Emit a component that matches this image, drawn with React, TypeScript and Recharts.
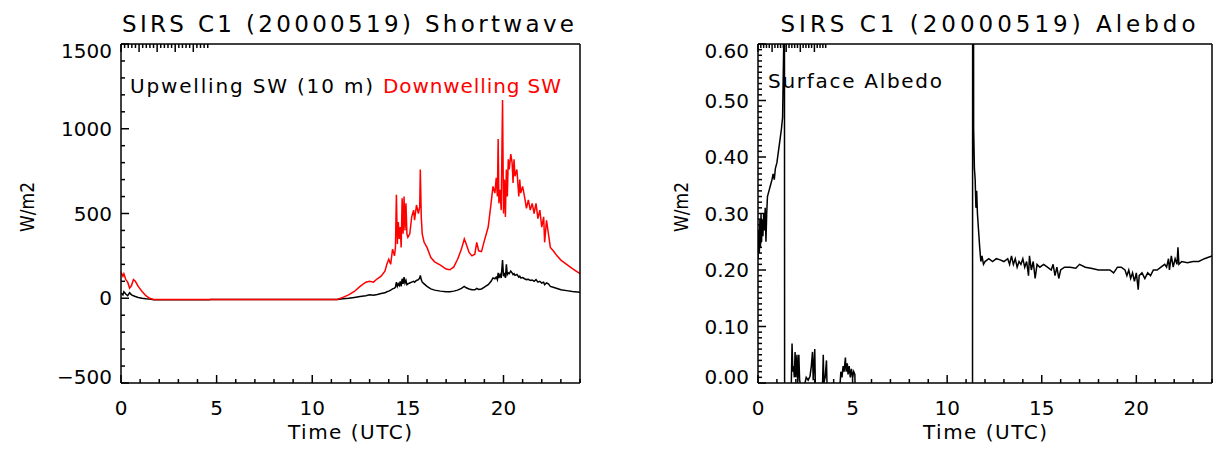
import { LineChart, Line, XAxis, YAxis } from 'recharts';

// Shortwave panel: time (UTC hours), downwelling and upwelling SW (W/m2)
const swTime = [
  0, 0.1, 0.15, 0.25, 0.35, 0.45, 0.55, 0.65, 0.75, 0.9,
  1.1, 1.3, 1.5, 1.7, 3, 4.6, 4.7, 6, 8, 10,
  11.3, 11.6, 11.9, 12.2, 12.5, 12.8, 13, 13.2, 13.4, 13.6,
  13.8, 13.9, 14, 14.1, 14.2, 14.3, 14.35, 14.4, 14.45, 14.5,
  14.55, 14.6, 14.65, 14.7, 14.75, 14.8, 14.85, 14.9, 14.95, 15,
  15.1, 15.2, 15.3, 15.35, 15.45, 15.55, 15.62, 15.65, 15.7, 15.75,
  15.85, 16, 16.2, 16.4, 16.7, 17, 17.2, 17.4, 17.6, 17.8,
  17.95, 18.05, 18.2, 18.35, 18.5, 18.6, 18.7, 18.85, 19, 19.2,
  19.35, 19.45, 19.55, 19.62, 19.68, 19.72, 19.76, 19.82, 19.88, 19.95,
  20, 20.05, 20.1, 20.15, 20.2, 20.25, 20.3, 20.38, 20.45, 20.5,
  20.55, 20.6, 20.7, 20.8, 20.85, 20.9, 21, 21.1, 21.2, 21.3,
  21.4, 21.5, 21.6, 21.7, 21.8, 21.9, 22, 22.1, 22.15, 22.25,
  22.35, 22.45, 22.6, 22.8, 23, 23.3, 23.6, 24,
];
const swDown = [
  155, 130, 145, 110, 95, 60, 75, 110, 100, 70,
  40, 15, 0, -7, -7, -7, -7, -7, -7, -7,
  -7, 5, 20, 40, 70, 95, 100, 95, 115, 130,
  160, 200, 230, 200, 290, 250, 300, 610, 320, 450,
  350, 420, 300, 590, 380, 600, 400, 560, 380, 360,
  380, 480, 520, 460, 550, 500, 540, 760, 480, 380,
  330, 300, 240, 215, 195, 172, 168, 185, 230, 290,
  350, 320, 270, 250, 260, 330, 280, 275, 340, 420,
  560, 660, 620, 710, 600, 940, 560, 640, 520, 1170,
  500, 700, 480, 760, 600, 820, 760, 850, 800, 680,
  820, 720, 760, 600, 700, 620, 660, 600, 530, 580,
  520, 560, 500, 560, 470, 520, 420, 480, 330, 460,
  380, 300, 280, 250, 225, 200, 175, 145,
];
const swUp = [
  30, 20, 38, 25, 15, 32, 20, 15, 10, 5,
  0, -3, -5, -9, -9, -9, -7, -7, -7, -7,
  -7, -3, 0, 5, 10, 15, 20, 18, 22, 28,
  32, 38, 42, 48, 55, 60, 65, 95, 70, 85,
  75, 100, 70, 115, 85, 125, 90, 105, 80, 85,
  90, 95, 100, 95, 105, 110, 120, 135, 110, 95,
  85, 70, 55, 48, 42, 38, 38, 42, 48, 58,
  70, 62, 55, 50, 50, 58, 52, 55, 65, 80,
  100, 120, 115, 125, 110, 150, 120, 140, 120, 225,
  130, 150, 120, 200, 140, 150, 145, 160, 150, 140,
  145, 135, 140, 125, 130, 120, 122, 115, 110, 112,
  105, 108, 100, 110, 95, 100, 90, 95, 80, 90,
  85, 70, 65, 58, 50, 45, 40, 35,
];

// Albedo panel: time (UTC hours) and surface albedo
const albTime = [
  0, 0.04, 0.07, 0.1, 0.13, 0.16, 0.19, 0.22, 0.26, 0.3,
  0.34, 0.38, 0.42, 0.46, 0.5, 0.58, 0.66, 0.74, 0.8, 0.86,
  0.92, 1, 1.08, 1.16, 1.24, 1.3, 1.36, 1.38, 1.42, 1.46,
  1.75, 1.8, 1.84, 1.88, 1.92, 1.96, 2, 2.06, 2.1, 2.16,
  2.2, 2.35, 2.55, 2.65, 2.75, 2.82, 2.88, 2.92, 3, 3.03,
  3.06, 3.4, 3.45, 3.48, 3.55, 3.62, 3.66, 4.3, 4.38, 4.44,
  4.5, 4.55, 4.62, 4.66, 4.72, 4.76, 4.82, 4.88, 4.94, 5,
  5.06, 5.12, 5.16, 11.34, 11.36, 11.4, 11.44, 11.48, 11.52, 11.56,
  11.6, 11.66, 11.72, 11.78, 11.84, 11.92, 12, 12.2, 12.4, 12.6,
  12.8, 13, 13.2, 13.3, 13.4, 13.5, 13.6, 13.7, 13.8, 13.9,
  14, 14.1, 14.2, 14.3, 14.35, 14.45, 14.55, 14.65, 14.75, 14.9,
  15.1, 15.3, 15.5, 15.6, 15.7, 15.8, 15.9, 16, 16.2, 16.5,
  16.8, 17, 17.3, 17.6, 18, 18.3, 18.6, 18.8, 19, 19.2,
  19.4, 19.5, 19.6, 19.7, 19.8, 19.9, 20, 20.1, 20.15, 20.3,
  20.45, 20.6, 20.75, 20.9, 21.1, 21.3, 21.5, 21.6, 21.7, 21.75,
  21.85, 21.95, 22.05, 22.15, 22.2, 22.25, 22.4, 22.7, 23, 23.3,
  23.6, 24,
];
const albValue = [
  0.22, 0.27, 0.23, 0.29, 0.24, 0.3, 0.25, 0.29, 0.26, 0.3,
  0.27, 0.31, 0.25, 0.3, 0.33, 0.34, 0.35, 0.36, 0.37, 0.36,
  0.38, 0.39, 0.41, 0.43, 0.45, 0.47, 0.6, 2, -1, -0.05,
  -0.02, 0.07, 0.02, 0.03, 0.01, 0.055, 0.01, 0.05, 0, 0.05,
  0.005, -0.02, 0.01, 0.005, 0.012, 0.03, 0.055, 0.005, 0.06, 0,
  -0.03, -0.02, 0.05, 0, 0.01, 0.04, -0.02, -0.02, 0.02, 0.01,
  0.03, 0.02, 0.045, 0.02, 0.035, 0.015, 0.03, 0.01, 0.025, 0.01,
  0.02, 0.015, -0.05, -0.05, 2, 0.45, 0.38, 0.36, 0.31, 0.34,
  0.3, 0.27, 0.24, 0.215, 0.225, 0.21, 0.215, 0.22, 0.215, 0.22,
  0.218, 0.215, 0.22, 0.21, 0.225, 0.21, 0.22, 0.205, 0.215, 0.21,
  0.22, 0.205, 0.215, 0.19, 0.225, 0.2, 0.215, 0.185, 0.21, 0.205,
  0.21, 0.205, 0.2, 0.21, 0.19, 0.205, 0.185, 0.2, 0.205, 0.205,
  0.203, 0.21, 0.205, 0.203, 0.2, 0.2, 0.2, 0.195, 0.205, 0.205,
  0.2, 0.19, 0.2, 0.185, 0.195, 0.18, 0.195, 0.165, 0.19, 0.195,
  0.185, 0.195, 0.19, 0.2, 0.2, 0.205, 0.21, 0.205, 0.22, 0.2,
  0.225, 0.205, 0.22, 0.21, 0.24, 0.21, 0.215, 0.213, 0.215, 0.215,
  0.22, 0.225,
];

// labelled (major) ticks
const xLabels = [0, 5, 10, 15, 20];
const swYLabels = [-500, 0, 500, 1000, 1500];
const albYLabels = [0, 0.1, 0.2, 0.3, 0.4, 0.5, 0.6];

// minor tick positions
const hourTicks = Array.from({ length: 25 }, (_, i) => i);
const swYTicks = Array.from({ length: 21 }, (_, i) => -500 + i * 100);
const albYTicks = Array.from({ length: 61 }, (_, i) => i / 100);

const swData = swTime.map((t, i) => ({ t, down: swDown[i], up: swUp[i] }));
const albData = albTime.map((t, i) => ({ t, albedo: albValue[i] }));

const FONT = "'DejaVu Sans', sans-serif";
const AXIS = { stroke: '#000', strokeWidth: 1.5 };

const makeXTick = (side: 'top' | 'bottom') => (props: any) => {
  const { x, y, payload } = props;
  const v = payload.value;
  const major = xLabels.includes(v);
  const len = major ? 8 : 4;
  const dir = side === 'bottom' ? -1 : 1;
  return (
    <g>
      <line x1={x} x2={x} y1={y} y2={y + dir * len} stroke="#000" strokeWidth={1.5} />
      {side === 'bottom' && major && (
        <text x={x} y={y + 32} textAnchor="middle" fontFamily={FONT} fontSize={20} fill="#000">
          {v}
        </text>
      )}
    </g>
  );
};

const makeYTick =
  (side: 'left' | 'right', labels: number[], fmt: (v: number) => string) => (props: any) => {
    const { x, y, payload } = props;
    const v = payload.value;
    const major = labels.includes(v);
    const len = major ? 8 : 4;
    const dir = side === 'left' ? 1 : -1;
    let base = y + 7;
    if (v === labels[labels.length - 1]) base = y + 14;
    if (v === labels[0]) base = y + 1;
    return (
      <g>
        <line x1={x} x2={x + dir * len} y1={y} y2={y} stroke="#000" strokeWidth={1.5} />
        {side === 'left' && major && (
          <text x={x - 9} y={base} textAnchor="end" fontFamily={FONT} fontSize={20} fill="#000">
            {fmt(v)}
          </text>
        )}
      </g>
    );
  };

const swFmt = (v: number) => String(v).replace('-', '\u2212');
const albFmt = (v: number) => v.toFixed(2);

const txt = { fontFamily: FONT, fill: '#000' };

// axes get a 1px band (zero-sized axes are not drawn), margins make up the rest
const ShortwavePanel = () => (
  <LineChart width={610} height={450} data={swData} margin={{ top: 43, right: 29, bottom: 66, left: 120 }}>
    <XAxis dataKey="t" type="number" domain={[0, 24]} ticks={hourTicks} interval={0} height={1}
      tickLine={false} tickSize={0} tickMargin={0} axisLine={AXIS} tick={makeXTick('bottom')} allowDataOverflow />
    <XAxis xAxisId="top" orientation="top" type="number" domain={[0, 24]} ticks={hourTicks} interval={0} height={1}
      tickLine={false} tickSize={0} tickMargin={0} axisLine={AXIS} tick={makeXTick('top')} />
    <YAxis type="number" domain={[-500, 1500]} ticks={swYTicks} interval={0} width={1}
      tickLine={false} tickSize={0} tickMargin={0} axisLine={AXIS} tick={makeYTick('left', swYLabels, swFmt)} allowDataOverflow />
    <YAxis yAxisId="right" orientation="right" type="number" domain={[-500, 1500]} ticks={swYTicks} interval={0} width={1}
      tickLine={false} tickSize={0} tickMargin={0} axisLine={AXIS} tick={makeYTick('right', swYLabels, swFmt)} />
    <Line type="linear" dataKey="up" stroke="#000" strokeWidth={1.5} dot={false} isAnimationActive={false} />
    <Line type="linear" dataKey="down" stroke="#ff0000" strokeWidth={1.5} dot={false} isAnimationActive={false} />
    <text x={348} y={32} textAnchor="middle" fontSize={23} textLength={452} lengthAdjust="spacing" {...txt}>
      SIRS C1 (20000519) Shortwave
    </text>
    <text x={130} y={93} fontSize={20} textLength={243} lengthAdjust="spacing" {...txt}>
      Upwelling SW (10 m)
    </text>
    <text x={383} y={93} fontSize={20} textLength={178} lengthAdjust="spacing" fontFamily={FONT} fill="#ff0000">
      Downwelling SW
    </text>
    <text x={350} y={439} textAnchor="middle" fontSize={20} textLength={124} lengthAdjust="spacing" {...txt}>
      Time (UTC)
    </text>
    <text x={34} y={207} transform="rotate(-90 34 207)" textAnchor="middle" fontSize={20} textLength={50}
      lengthAdjust="spacingAndGlyphs" {...txt}>
      W/m2
    </text>
  </LineChart>
);

const AlbedoPanel = () => (
  <LineChart width={603} height={450} data={albData} margin={{ top: 43, right: 0, bottom: 66, left: 147 }}>
    <XAxis dataKey="t" type="number" domain={[0, 24]} ticks={hourTicks} interval={0} height={1}
      tickLine={false} tickSize={0} tickMargin={0} axisLine={AXIS} tick={makeXTick('bottom')} allowDataOverflow />
    <XAxis xAxisId="top" orientation="top" type="number" domain={[0, 24]} ticks={hourTicks} interval={0} height={1}
      tickLine={false} tickSize={0} tickMargin={0} axisLine={AXIS} tick={makeXTick('top')} />
    <YAxis type="number" domain={[0, 0.6]} ticks={albYTicks} interval={0} width={1}
      tickLine={false} tickSize={0} tickMargin={0} axisLine={AXIS} tick={makeYTick('left', albYLabels, albFmt)} allowDataOverflow />
    <YAxis yAxisId="right" orientation="right" type="number" domain={[0, 0.6]} ticks={albYTicks} interval={0} width={1}
      tickLine={false} tickSize={0} tickMargin={0} axisLine={AXIS} tick={makeYTick('right', albYLabels, albFmt)} />
    <Line type="linear" dataKey="albedo" stroke="#000" strokeWidth={1.5} dot={false} isAnimationActive={false} />
    <text x={378} y={32} textAnchor="middle" fontSize={23} textLength={415} lengthAdjust="spacing" {...txt}>
      SIRS C1 (20000519) Alebdo
    </text>
    <text x={158} y={88} fontSize={20} textLength={174} lengthAdjust="spacing" {...txt}>
      Surface Albedo
    </text>
    <text x={375} y={439} textAnchor="middle" fontSize={20} textLength={124} lengthAdjust="spacing" {...txt}>
      Time (UTC)
    </text>
    <text x={78} y={207} transform="rotate(-90 78 207)" textAnchor="middle" fontSize={20} textLength={50}
      lengthAdjust="spacingAndGlyphs" {...txt}>
      W/m2
    </text>
  </LineChart>
);

export default function App() {
  return (
    <div style={{ position: 'absolute', left: 0, top: 0, width: 1213, height: 450, background: '#fff' }}>
      <div style={{ position: 'absolute', left: 0, top: 0 }}>
        <ShortwavePanel />
      </div>
      <div style={{ position: 'absolute', left: 610, top: 0 }}>
        <AlbedoPanel />
      </div>
    </div>
  );
}
